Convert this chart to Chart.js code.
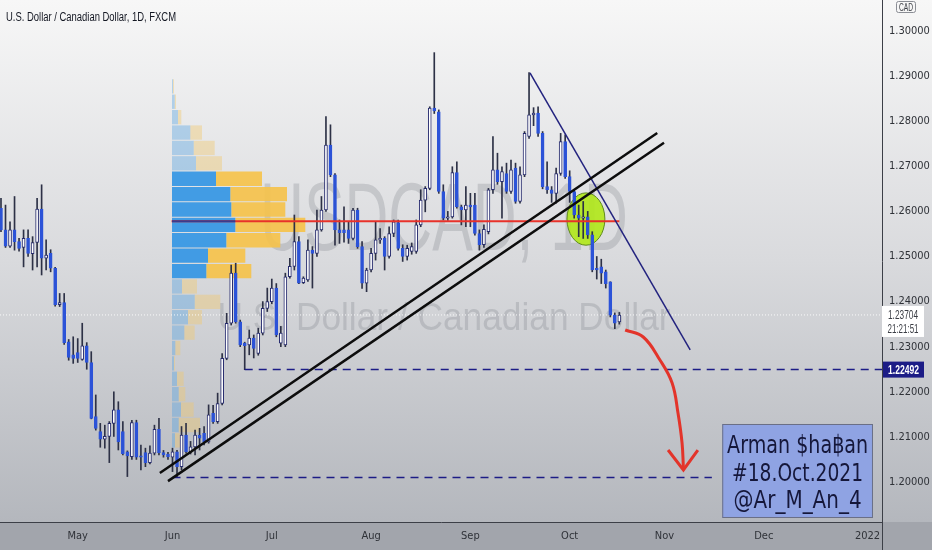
<!DOCTYPE html>
<html>
<head>
<meta charset="utf-8">
<title>USDCAD 1D</title>
<script src="https://cdn.jsdelivr.net/npm/chart.js@4.4.1/dist/chart.umd.min.js"></script>
<style>
  html, body { margin: 0; padding: 0; background: #d9dadd; }
  #wrap { width: 932px; height: 550px; }
</style>
</head>
<body>
<div id="wrap"><canvas id="chart" width="932" height="550"></canvas></div>
<script>
// Daily candles, bar 0 = 8 Apr 2021 ... bar 137 = 18 Oct 2021
const opens = [1.2607,1.2559,1.2523,1.2559,1.2533,1.2520,1.2540,1.2506,1.2531,1.2605,
  1.2496,1.2507,1.2474,1.2393,1.2398,1.2311,1.2282,1.2287,1.2272,1.2302,
  1.2265,1.2145,1.2112,1.2095,1.2101,1.2130,1.2160,1.2112,1.2067,1.2056,
  1.2132,1.2058,1.2065,1.2043,1.2064,1.2117,1.2065,1.2062,1.2055,1.2067,
  1.2034,1.2104,1.2067,1.2078,1.2104,1.2108,1.2089,1.2152,1.2134,1.2174,
  1.2274,1.2352,1.2463,1.2355,1.2308,1.2304,1.2319,1.2285,1.2330,1.2385,
  1.2400,1.2430,1.2308,1.2304,1.2455,1.2478,1.2533,1.2442,1.2448,1.2514,
  1.2507,1.2559,1.2603,1.2747,1.2681,1.2559,1.2559,1.2559,1.2540,1.2603,
  1.2522,1.2441,1.2470,1.2507,1.2537,1.2540,1.2500,1.2551,1.2575,1.2518,
  1.2500,1.2511,1.2511,1.2570,1.2625,1.2651,1.2829,1.2821,1.2644,1.2585,
  1.2588,1.2686,1.2610,1.2603,1.2614,1.2614,1.2551,1.2526,1.2555,1.2648,
  1.2692,1.2666,1.2684,1.2644,1.2696,1.2622,1.2681,1.2766,1.2814,1.2818,
  1.2773,1.2655,1.2648,1.2640,1.2684,1.2755,1.2677,1.2644,1.2592,1.2585,
  1.2588,1.2548,1.2474,1.2477,1.2466,1.2444,1.2370,1.2355];
const highs = [1.2629,1.2614,1.2577,1.2633,1.2540,1.2559,1.2559,1.2544,1.2629,1.2659,
  1.2537,1.2515,1.2476,1.2418,1.2418,1.2316,1.2322,1.2318,1.2352,1.2309,
  1.2289,1.2193,1.2130,1.2126,1.2134,1.2200,1.2178,1.2134,1.2069,1.2137,
  1.2137,1.2082,1.2075,1.2080,1.2126,1.2141,1.2070,1.2066,1.2075,1.2070,
  1.2123,1.2130,1.2090,1.2115,1.2119,1.2123,1.2171,1.2170,1.2197,1.2285,
  1.2374,1.2481,1.2485,1.2359,1.2310,1.2337,1.2326,1.2341,1.2400,1.2430,
  1.2450,1.2440,1.2345,1.2463,1.2496,1.2592,1.2544,1.2455,1.2537,1.2522,
  1.2603,1.2633,1.2810,1.2792,1.2684,1.2581,1.2610,1.2577,1.2607,1.2607,
  1.2533,1.2474,1.2518,1.2577,1.2562,1.2544,1.2566,1.2581,1.2581,1.2526,
  1.2525,1.2530,1.2581,1.2648,1.2655,1.2832,1.2952,1.2825,1.2659,1.2600,
  1.2699,1.2710,1.2614,1.2655,1.2640,1.2640,1.2559,1.2570,1.2651,1.2766,
  1.2729,1.2699,1.2707,1.2714,1.2707,1.2699,1.2777,1.2908,1.2830,1.2832,
  1.2777,1.2710,1.2655,1.2696,1.2773,1.2770,1.2690,1.2648,1.2614,1.2622,
  1.2600,1.2555,1.2500,1.2494,1.2470,1.2444,1.2375,1.2376];
const lows = [1.2555,1.2520,1.2520,1.2514,1.2512,1.2477,1.2500,1.2470,1.2477,1.2459,
  1.2470,1.2466,1.2390,1.2389,1.2305,1.2270,1.2263,1.2265,1.2270,1.2250,
  1.2140,1.2115,1.2077,1.2075,1.2043,1.2101,1.2071,1.2060,1.2012,1.2050,
  1.2050,1.2027,1.2034,1.2040,1.2060,1.2060,1.2055,1.2050,1.2023,1.2012,
  1.2027,1.2064,1.2062,1.2060,1.2071,1.2082,1.2086,1.2130,1.2130,1.2171,
  1.2271,1.2348,1.2352,1.2300,1.2249,1.2282,1.2275,1.2281,1.2326,1.2378,
  1.2395,1.2322,1.2300,1.2300,1.2452,1.2470,1.2440,1.2440,1.2445,1.2430,
  1.2500,1.2556,1.2600,1.2677,1.2525,1.2529,1.2532,1.2529,1.2537,1.2518,
  1.2429,1.2422,1.2466,1.2492,1.2529,1.2470,1.2496,1.2544,1.2514,1.2489,
  1.2492,1.2505,1.2507,1.2566,1.2599,1.2648,1.2817,1.2640,1.2581,1.2580,
  1.2585,1.2607,1.2570,1.2566,1.2566,1.2547,1.2514,1.2520,1.2550,1.2640,
  1.2660,1.2585,1.2640,1.2640,1.2618,1.2618,1.2677,1.2762,1.2790,1.2766,
  1.2650,1.2640,1.2620,1.2618,1.2680,1.2673,1.2620,1.2585,1.2544,1.2540,
  1.2540,1.2466,1.2450,1.2440,1.2430,1.2366,1.2340,1.2350];
const closes = [1.2559,1.2523,1.2559,1.2533,1.2518,1.2540,1.2507,1.2531,1.2605,1.2496,
  1.2503,1.2474,1.2393,1.2398,1.2309,1.2276,1.2274,1.2274,1.2302,1.2265,
  1.2141,1.2119,1.2095,1.2101,1.2130,1.2160,1.2089,1.2063,1.2058,1.2132,
  1.2055,1.2055,1.2043,1.2064,1.2117,1.2065,1.2060,1.2056,1.2067,1.2034,
  1.2104,1.2067,1.2078,1.2104,1.2097,1.2089,1.2149,1.2134,1.2174,1.2274,
  1.2352,1.2463,1.2355,1.2304,1.2302,1.2319,1.2296,1.2330,1.2385,1.2400,
  1.2430,1.2326,1.2330,1.2455,1.2478,1.2533,1.2441,1.2452,1.2514,1.2507,
  1.2559,1.2603,1.2747,1.2681,1.2559,1.2553,1.2553,1.2540,1.2603,1.2522,
  1.2441,1.2470,1.2507,1.2537,1.2540,1.2500,1.2551,1.2577,1.2518,1.2500,
  1.2518,1.2522,1.2570,1.2625,1.2651,1.2829,1.2823,1.2644,1.2585,1.2588,
  1.2686,1.2610,1.2603,1.2614,1.2610,1.2551,1.2526,1.2560,1.2648,1.2692,
  1.2666,1.2688,1.2644,1.2692,1.2622,1.2681,1.2773,1.2814,1.2818,1.2773,
  1.2655,1.2648,1.2640,1.2684,1.2755,1.2677,1.2644,1.2592,1.2585,1.2588,
  1.2548,1.2470,1.2470,1.2463,1.2440,1.2370,1.2352,1.2370];

// time axis: bar index of the first session of each month
const monthTicks = [17, 38, 60, 82, 104, 126, 147, 169, 192];
const monthLabels = ['May', 'Jun', 'Jul', 'Aug', 'Sep', 'Oct', 'Nov', 'Dec', '2022'];
const priceTicks = [1.20, 1.21, 1.22, 1.23, 1.24, 1.25, 1.26, 1.27, 1.28, 1.29, 1.30];
const xRange = [-0.22, 195.2];
const yRange = [1.19113, 1.30687];

// fixed range volume profile, rows listed from the top of the range down
const profileTop = 1.2952;
const profileRowHeight = 0.0039;
const profileStart = 37.8;
const profileUp = [1, 2.7, 6, 18.3, 21.7, 24, 44, 58.3, 59.3, 63.3, 54.3, 36, 34.3, 10, 22.7, 16, 12.3, 3.3, 2, 5, 6.7, 9, 6.7, 3];
const profileDown = [1, 1.3, 3.3, 11.7, 21, 26, 46, 56.7, 54, 70, 54, 37.3, 45, 15, 25.6, 14, 10.4, 5, 1, 6.7, 6.6, 12.7, 21.3, 5];
const valueAreaRows = [6, 12];
const pocRow = 9;

// drawings (bar index, price)
const pocPrice = 1.2578;
const pocLine = [{x: profileStart, y: pocPrice}, {x: 137, y: pocPrice}];
const trendUpper = [{x: 35.2, y: 1.2020}, {x: 145.4, y: 1.2774}];
const trendLower = [{x: 37.0, y: 1.2002}, {x: 146.9, y: 1.2752}];
const downTrend = [{x: 117.2, y: 1.2907}, {x: 152.7, y: 1.2293}];
const levelHigh = [{x: 54, y: 1.22492}, {x: 195.2, y: 1.22492}];
const levelLow = [{x: 38, y: 1.2010}, {x: 157.5, y: 1.2010}];
const lastPrice = 1.23704;
const arrowPath = [{x: 138.3, y: 1.2337}, {x: 142.3, y: 1.23215}, {x: 146.0, y: 1.22705}, {x: 148.7, y: 1.22195},
  {x: 150.0, y: 1.2153}, {x: 150.9, y: 1.20865}, {x: 151.2, y: 1.2031}];
const arrowHead = [{x: 147.8, y: 1.20709}, {x: 151.2, y: 1.20266}, {x: 154.4, y: 1.20709}];
const circleCenter = {x: 129.6, y: 1.2583};
const circleRadius = {x: 4.2, y: 0.0058};
const noteBox = {x0: 159.8, y0: 1.21286, x1: 193.2, y1: 1.19202};
const noteLines = ['Arman $ha\u0E3Fan', '#18.Oct.2021', '@Ar_M_An_4'];

const narrow = "'Liberation Sans Narrow', 'DejaVu Sans Condensed', 'Arial Narrow', 'Liberation Sans', sans-serif";

const candleBlue = '#2c53d8';
const wicks = opens.map((o, i) => ({x: i, y: [lows[i], highs[i]]}));
const bodies = opens.map((o, i) => ({x: i, y: [o, closes[i]]}));
const bodyFill = opens.map((o, i) => closes[i] >= o ? '#ffffff' : candleBlue);
const bodyEdge = opens.map((o, i) => closes[i] >= o ? '#262b6e' : candleBlue);

const profileRows = profileUp.map((v, n) => profileTop - (n + 0.5) * profileRowHeight);
const inVA = n => n >= valueAreaRows[0] && n <= valueAreaRows[1];

function lineSet(points, color, width, dash, order, tension) {
  return {
    type: 'line', data: points, xAxisID: 'x', yAxisID: 'y',
    borderColor: color, borderWidth: width, borderDash: dash || [],
    pointRadius: 0, fill: false, tension: tension || 0, order: order
  };
}

// text squeezed to a target width, like the narrow screenshot fonts
function fitText(ctx, text, x, y, width, font, align) {
  ctx.font = font;
  const w = ctx.measureText(text).width;
  ctx.save();
  ctx.translate(x, y);
  ctx.scale(width / w, 1);
  ctx.textAlign = align || 'center';
  ctx.fillText(text, 0, 0);
  ctx.restore();
}

const backdrop = {
  id: 'backdrop',
  beforeDraw(chart) {
    const {ctx, width, height, chartArea} = chart;
    const g = ctx.createLinearGradient(0, 0, 0, chartArea.bottom);
    g.addColorStop(0, '#f7f7f7');
    g.addColorStop(0.5, '#d9dadd');
    g.addColorStop(1, '#b4b7bd');
    ctx.save();
    ctx.fillStyle = g;
    ctx.fillRect(0, 0, width, chartArea.bottom);
    ctx.fillStyle = '#a2a5ac';
    ctx.fillRect(0, chartArea.bottom, width, height - chartArea.bottom);
    ctx.restore();
  },
  beforeDatasetsDraw(chart) {
    const {ctx, chartArea} = chart;
    const xs = chart.scales.x, ys = chart.scales.y;
    // symbol watermark
    ctx.save();
    ctx.fillStyle = 'rgba(110,112,122,0.24)';
    const cx = (chartArea.left + chartArea.right) / 2 + 3;
    fitText(ctx, 'USDCAD, 1D', cx, chartArea.top + chartArea.height * 0.479, 368, '96px "Liberation Sans", Arial, sans-serif');
    fitText(ctx, 'U.S. Dollar / Canadian Dollar', cx, chartArea.top + chartArea.height * 0.632, 453, '38px "Liberation Sans", Arial, sans-serif');
    ctx.restore();
    // green ellipse
    const ex = xs.getPixelForValue(circleCenter.x), ey = ys.getPixelForValue(circleCenter.y);
    const rx = xs.getPixelForValue(circleCenter.x + circleRadius.x) - ex;
    const ry = ey - ys.getPixelForValue(circleCenter.y + circleRadius.y);
    ctx.save();
    ctx.beginPath();
    ctx.ellipse(ex, ey, rx, ry, 0, 0, Math.PI * 2);
    ctx.fillStyle = 'rgba(176,232,24,0.9)';
    ctx.fill();
    ctx.strokeStyle = '#5f8a1c';
    ctx.lineWidth = 1;
    ctx.stroke();
    ctx.restore();
  },
  afterDatasetsDraw(chart) {
    // the POC looks dark where it crosses the blue part of its row
    const {ctx} = chart;
    const xv = chart.scales.xv, ys = chart.scales.y;
    const py = ys.getPixelForValue(pocPrice);
    ctx.save();
    ctx.strokeStyle = '#3a3c8e';
    ctx.lineWidth = 2;
    ctx.beginPath();
    ctx.moveTo(xv.getPixelForValue(0), py);
    ctx.lineTo(xv.getPixelForValue(profileUp[pocRow]), py);
    ctx.stroke();
    ctx.restore();
  },
  afterDraw(chart) {
    const {ctx, chartArea, height} = chart;
    const xs = chart.scales.x, ys = chart.scales.y;
    ctx.save();
    // note box
    const l = xs.getPixelForValue(noteBox.x0), r = xs.getPixelForValue(noteBox.x1);
    const t = ys.getPixelForValue(noteBox.y0), b = ys.getPixelForValue(noteBox.y1);
    ctx.fillStyle = '#8fa3e3';
    ctx.fillRect(l, t, r - l, b - t);
    ctx.strokeStyle = '#6a6f86';
    ctx.lineWidth = 1;
    ctx.strokeRect(l + 0.5, t + 0.5, r - l - 1, b - t - 1);
    ctx.fillStyle = '#15173a';
    const mid = (l + r) / 2;
    fitText(ctx, noteLines[0], mid, t + 29, 141, '25px "DejaVu Sans", sans-serif');
    fitText(ctx, noteLines[1], mid, t + 57, 131, '25px "DejaVu Sans", sans-serif');
    fitText(ctx, noteLines[2], mid, t + 84, 128, '25px "DejaVu Sans", sans-serif');

    // title
    ctx.fillStyle = '#131722';
    fitText(ctx, 'U.S. Dollar / Canadian Dollar, 1D, FXCM', 6, 21, 170, '12px "Liberation Sans", Arial, sans-serif', 'left');

    // currency box on the price axis
    ctx.strokeStyle = '#8a8d94';
    ctx.beginPath();
    ctx.roundRect(896.5, 1.5, 19, 11, 2);
    ctx.stroke();
    ctx.fillStyle = '#3b3e45';
    fitText(ctx, 'CAD', 906, 11, 14, '10px "Liberation Sans", Arial, sans-serif');

    // last price label
    const ly = ys.getPixelForValue(lastPrice);
    ctx.fillStyle = '#ffffff';
    ctx.fillRect(chartArea.right, ly - 9, 42, 31);
    ctx.fillStyle = '#3b3e45';
    fitText(ctx, lastPrice.toFixed(5), chartArea.right + 21, ly + 4, 30, '12px "Liberation Sans", Arial, sans-serif');
    fitText(ctx, '21:21:51', chartArea.right + 21, ly + 18, 31, '12px "Liberation Sans", Arial, sans-serif');

    // level label
    const hy = ys.getPixelForValue(levelHigh[0].y);
    ctx.fillStyle = '#1c1c86';
    ctx.fillRect(chartArea.right + 1, hy - 8, 41, 16);
    ctx.fillStyle = '#ffffff';
    fitText(ctx, levelHigh[0].y.toFixed(5), chartArea.right + 21.5, hy + 4.5, 31, 'bold 12px "Liberation Sans", Arial, sans-serif');

    // separator in the time strip
    ctx.strokeStyle = '#3c3f47';
    ctx.beginPath();
    ctx.moveTo(chartArea.right + 0.5, chartArea.bottom);
    ctx.lineTo(chartArea.right + 0.5, height);
    ctx.stroke();
    ctx.restore();
  }
};

const datasets = [
  {
    type: 'bar', indexAxis: 'y', xAxisID: 'xv', yAxisID: 'yv',
    data: profileRows.map((p, n) => ({y: p, x: [0, profileUp[n]]})),
    backgroundColor: profileRows.map((p, n) => inVA(n) ? 'rgba(52,150,228,0.92)' : 'rgba(80,160,225,0.38)'),
    borderWidth: 0, grouped: false, categoryPercentage: 1, barPercentage: 0.93, order: 10
  },
  {
    type: 'bar', indexAxis: 'y', xAxisID: 'xv', yAxisID: 'yv',
    data: profileRows.map((p, n) => ({y: p, x: [profileUp[n], profileUp[n] + profileDown[n]]})),
    backgroundColor: profileRows.map((p, n) => inVA(n) ? 'rgba(246,194,72,0.9)' : 'rgba(240,200,110,0.42)'),
    borderWidth: 0, grouped: false, categoryPercentage: 1, barPercentage: 0.93, order: 10
  },
  lineSet([{x: xRange[0], y: lastPrice}, {x: xRange[1], y: lastPrice}], 'rgba(255,255,255,0.9)', 1, [1, 2], 8),
  {
    type: 'bar', xAxisID: 'x', yAxisID: 'y', data: wicks,
    backgroundColor: '#2d3146', borderWidth: 0, barThickness: 1, grouped: false, order: 6
  },
  {
    type: 'bar', xAxisID: 'x', yAxisID: 'y', data: bodies,
    backgroundColor: bodyFill, borderColor: bodyEdge, borderWidth: 1, borderSkipped: false,
    barThickness: 3, minBarLength: 1, grouped: false, order: 5
  },
  lineSet(pocLine, '#e8322a', 2, null, 4),
  lineSet(trendUpper, '#0d0d0d', 2.5, null, 3),
  lineSet(trendLower, '#0d0d0d', 2.5, null, 3),
  lineSet(downTrend, '#23237f', 1.5, null, 3),
  lineSet(levelHigh, '#1c1c86', 1.5, [8, 6], 3),
  lineSet(levelLow, '#1c1c86', 1.5, [8, 6], 3),
  lineSet(arrowPath, '#e3342a', 3, null, 1, 0.4),
  lineSet(arrowHead, '#e3342a', 3, null, 1)
];

// drop the label overflow padding so the plot fills the whole pane
const noPad = s => { s.paddingTop = 0; s.paddingBottom = 0; s.paddingLeft = 0; s.paddingRight = 0; };

new Chart(document.getElementById('chart'), {
  type: 'line',
  data: { datasets: datasets },
  options: {
    responsive: false,
    animation: false,
    devicePixelRatio: 1,
    layout: { padding: 0 },
    plugins: { legend: { display: false }, tooltip: { enabled: false } },
    scales: {
      x: {
        type: 'linear', position: 'bottom', min: xRange[0], max: xRange[1], offset: false,
        grid: { display: false, drawTicks: false },
        border: { display: true, color: '#3c3f47', width: 1 },
        ticks: {
          font: { family: narrow, size: 11 }, color: '#2f3238', padding: 8,
          maxRotation: 0, autoSkip: false,
          callback: (v, i) => monthLabels[i]
        },
        afterBuildTicks: s => { s.ticks = monthTicks.map(v => ({ value: v })); },
        afterFit: s => { s.height = 28; noPad(s); }
      },
      y: {
        type: 'linear', position: 'right', min: yRange[0], max: yRange[1], offset: false,
        grid: { display: false, drawTicks: false },
        border: { display: true, color: '#3c3f47', width: 1 },
        ticks: {
          font: { family: narrow, size: 11 }, color: '#2f3238', padding: 7, autoSkip: false,
          callback: v => Number(v).toFixed(5)
        },
        afterBuildTicks: s => { s.ticks = priceTicks.map(v => ({ value: v })); },
        afterFit: s => { s.width = 50; noPad(s); }
      },
      xv: { type: 'linear', axis: 'x', position: 'bottom', display: false, min: -172, max: 710 },
      yv: { type: 'linear', axis: 'y', position: 'right', display: false, min: yRange[0], max: yRange[1] }
    }
  },
  plugins: [backdrop]
});
</script>
</body>
</html>
